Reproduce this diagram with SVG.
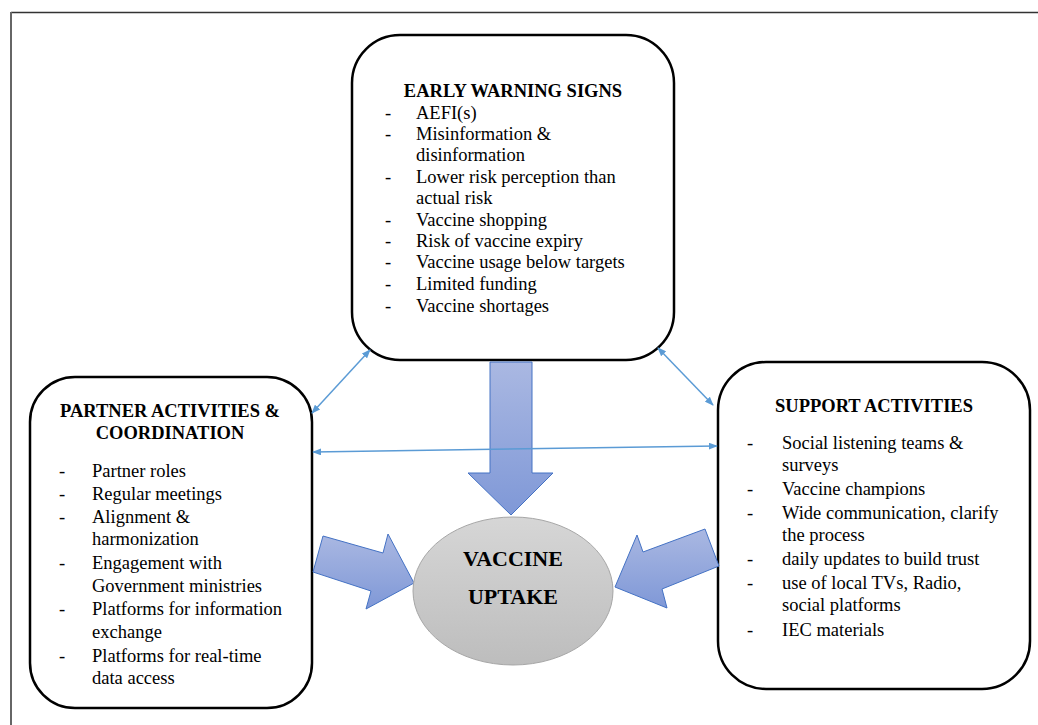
<svg xmlns="http://www.w3.org/2000/svg" width="1038" height="725" viewBox="0 0 1038 725">
<defs>
<linearGradient id="blueGrad" x1="0" y1="0" x2="0" y2="1">
<stop offset="0" stop-color="#aab8e2"/>
<stop offset="1" stop-color="#7f98d7"/>
</linearGradient>
<linearGradient id="greyGrad" x1="0" y1="0" x2="0" y2="1">
<stop offset="0" stop-color="#d6d6d6"/>
<stop offset="1" stop-color="#bdbdbd"/>
</linearGradient>
<marker id="ah" viewBox="0 0 10 10" refX="9" refY="5" markerWidth="9" markerHeight="7" orient="auto-start-reverse" markerUnits="userSpaceOnUse" preserveAspectRatio="none">
<path d="M0,0 L10,5 L0,10 z" fill="#5b9bd5"/>
</marker>
<style>
.box{fill:#ffffff;stroke:#000000;stroke-width:2.5}
.t{font-family:"Liberation Serif","Times New Roman",serif;font-size:18.5px;fill:#000000}
.b{font-weight:bold}
.big{fill:url(#blueGrad);stroke:#4472c4;stroke-width:1}
.thin{stroke:#5b9bd5;stroke-width:1.5;fill:none;marker-start:url(#ah);marker-end:url(#ah)}
</style>
</defs>
<rect width="1038" height="725" fill="#ffffff"/>
<g id="frame">
<line x1="11" y1="12.5" x2="1038" y2="12.5" stroke="#333333" stroke-width="1.5"/>
<line x1="11" y1="12" x2="11" y2="725" stroke="#666666" stroke-width="2"/>
</g>
<g id="early-warning">
<rect class="box" x="352" y="35" width="322" height="325" rx="48" ry="48"/>
<text class="t b" x="513" y="97" text-anchor="middle">EARLY WARNING SIGNS</text>
<g class="t">
<text x="385" y="119">-</text><text x="416" y="119">AEFI(s)</text>
<text x="385" y="140">-</text><text x="416" y="140">Misinformation &amp;</text>
<text x="416" y="161">disinformation</text>
<text x="385" y="183">-</text><text x="416" y="183">Lower risk perception than</text>
<text x="416" y="204">actual risk</text>
<text x="385" y="226">-</text><text x="416" y="226">Vaccine shopping</text>
<text x="385" y="247">-</text><text x="416" y="247">Risk of vaccine expiry</text>
<text x="385" y="268">-</text><text x="416" y="268">Vaccine usage below targets</text>
<text x="385" y="290">-</text><text x="416" y="290">Limited funding</text>
<text x="385" y="312">-</text><text x="416" y="312">Vaccine shortages</text>
</g>
</g>
<g id="partner">
<rect class="box" x="30" y="377" width="282" height="331" rx="45" ry="45"/>
<text class="t b" x="170" y="417" text-anchor="middle">PARTNER ACTIVITIES &amp;</text>
<text class="t b" x="170" y="439" text-anchor="middle">COORDINATION</text>
<g class="t">
<text x="59" y="477">-</text><text x="92" y="477">Partner roles</text>
<text x="59" y="500">-</text><text x="92" y="500">Regular meetings</text>
<text x="59" y="523">-</text><text x="92" y="523">Alignment &amp;</text>
<text x="92" y="545">harmonization</text>
<text x="59" y="569">-</text><text x="92" y="569">Engagement with</text>
<text x="92" y="592">Government ministries</text>
<text x="59" y="615">-</text><text x="92" y="615">Platforms for information</text>
<text x="92" y="638">exchange</text>
<text x="59" y="662">-</text><text x="92" y="662">Platforms for real-time</text>
<text x="92" y="684">data access</text>
</g>
</g>
<g id="support">
<rect class="box" x="718" y="362" width="312" height="327" rx="48" ry="48"/>
<text class="t b" x="874" y="412" text-anchor="middle">SUPPORT ACTIVITIES</text>
<g class="t">
<text x="747" y="449">-</text><text x="782" y="449">Social listening teams &amp;</text>
<text x="782" y="471">surveys</text>
<text x="747" y="495">-</text><text x="782" y="495">Vaccine champions</text>
<text x="747" y="519">-</text><text x="782" y="519">Wide communication, clarify</text>
<text x="782" y="541">the process</text>
<text x="747" y="565">-</text><text x="782" y="565">daily updates to build trust</text>
<text x="747" y="589">-</text><text x="782" y="589">use of local TVs, Radio,</text>
<text x="782" y="611">social platforms</text>
<text x="747" y="636">-</text><text x="782" y="636">IEC materials</text>
</g>
</g>
<g id="connectors">
<polygon class="big" points="490,362 532,362 532,473 553,473 511,515 468,473 490,473"/>
<polygon class="big" points="323,536 383,553 388,534 414,583 366,609 371,591 313,572"/>
<polygon class="big" points="705,529 719,566 662,589 667,608 615,587 637,535 643,552"/>
<line class="thin" x1="370" y1="350" x2="312" y2="413"/>
<line class="thin" x1="658" y1="348" x2="713" y2="405"/>
<line class="thin" x1="313" y1="452" x2="717" y2="446"/>
</g>
<g id="vaccine-uptake">
<ellipse cx="513" cy="591" rx="100" ry="74" fill="url(#greyGrad)" stroke="#a6a6a6" stroke-width="1"/>
<text class="t b" x="513" y="566" text-anchor="middle" style="font-size:22px">VACCINE</text>
<text class="t b" x="513" y="604" text-anchor="middle" style="font-size:22px">UPTAKE</text>
</g>
</svg>
